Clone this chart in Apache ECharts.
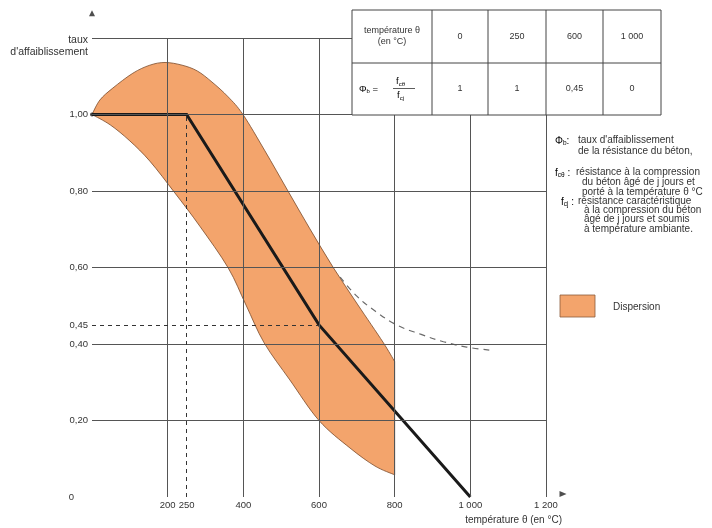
<!DOCTYPE html>
<html><head><meta charset="utf-8">
<script src="https://cdn.jsdelivr.net/npm/echarts@6/dist/echarts.min.js"></script>
<style>html,body{margin:0;padding:0;background:#fff}#c{width:712px;height:528px}</style>
</head><body><div id="c"></div>
<script>
// ---- data ----
const xTicks = [200, 250, 400, 600, 800, 1000, 1200];
const yTicks = [0, 0.2, 0.4, 0.45, 0.6, 0.8, 1.0];
const gridX = [200, 400, 600, 800, 1000, 1200];
const gridY = [0.2, 0.4, 0.6, 0.8, 1.0, 1.2];
const lineTemps = [0, 250, 600, 1000];
const linePhi = [1, 1, 0.45, 0];
const upperT = [0, 21, 55, 108, 153, 193, 238, 278, 317, 360, 399, 457, 518, 576, 637, 703, 769, 800];
const upperV = [1.0, 1.038, 1.069, 1.108, 1.129, 1.136, 1.129, 1.114, 1.085, 1.046, 1.0, 0.905, 0.8, 0.701, 0.601, 0.502, 0.405, 0.354];
const lowerT = [0, 48, 100, 153, 219, 285, 360, 407, 455, 523, 600, 682, 748, 800];
const lowerV = [1.0, 0.973, 0.931, 0.878, 0.795, 0.708, 0.599, 0.502, 0.403, 0.306, 0.2, 0.128, 0.081, 0.058];
const dashT = [656, 700, 750, 805, 870, 929, 990, 1052];
const dashV = [0.575, 0.525, 0.485, 0.45, 0.425, 0.406, 0.392, 0.384];
const tableTemps = ['0', '250', '600', '1 000'];
const tablePhi = ['1', '1', '0,45', '0'];

// ---- chart ----
const FONT = 'Liberation Sans';
const TXT = '#333';
const chart = echarts.init(document.getElementById('c'), null, {renderer: 'canvas'});

const fmtNum = v => v >= 1000 ? String(v).replace(/(\d)(\d{3})$/, '$1 $2') : String(v);
const hLines = gridY.map(v => [{coord: [0, v]}, {coord: [1200, v]}]);
const vLines = gridX.map(t => [{coord: [t, 0]}, {coord: [t, 1.2]}]);

function crSegs(pts) {
  let d = '';
  for (let i = 0; i < pts.length - 1; i++) {
    const p0 = pts[i - 1] || pts[i], p1 = pts[i], p2 = pts[i + 1], p3 = pts[i + 2] || pts[i + 1];
    const c1 = [p1[0] + (p2[0] - p0[0]) / 6, p1[1] + (p2[1] - p0[1]) / 6];
    const c2 = [p2[0] - (p3[0] - p1[0]) / 6, p2[1] - (p3[1] - p1[1]) / 6];
    d += ` C${c1[0]},${c1[1]} ${c2[0]},${c2[1]} ${p2[0]},${p2[1]}`;
  }
  return d;
}

// table geometry (layout only)
const Z = 100;
const tx = [352, 432, 488, 546, 603, 661], ty = [10, 63, 115];
const tableChildren = [
  {type: 'rect', z: Z, shape: {x: tx[0], y: ty[0], width: tx[5] - tx[0], height: ty[2] - ty[0]},
   style: {fill: '#fff', stroke: '#444', lineWidth: 1}},
  {type: 'line', z: Z + 1, shape: {x1: tx[0], y1: ty[1], x2: tx[5], y2: ty[1]}, style: {stroke: '#444', lineWidth: 1}}
];
for (let i = 1; i < 5; i++) tableChildren.push({type: 'line', z: Z + 1, shape: {x1: tx[i], y1: ty[0], x2: tx[i], y2: ty[2]}, style: {stroke: '#444', lineWidth: 1}});
tableTemps.forEach((s, i) => tableChildren.push({type: 'text', z: Z + 1, style: {text: s, x: (tx[i + 1] + tx[i + 2]) / 2, y: (ty[0] + ty[1]) / 2, align: 'center', verticalAlign: 'middle', font: `9px "${FONT}"`, fill: TXT}}));
tablePhi.forEach((s, i) => tableChildren.push({type: 'text', z: Z + 1, style: {text: s, x: (tx[i + 1] + tx[i + 2]) / 2, y: (ty[1] + ty[2]) / 2, align: 'center', verticalAlign: 'middle', font: `9px "${FONT}"`, fill: TXT}}));
tableChildren.push({type: 'text', z: Z + 1, style: {text: 'température θ\n(en °C)', x: (tx[0] + tx[1]) / 2, y: (ty[0] + ty[1]) / 2, align: 'center', verticalAlign: 'middle', font: `9px "${FONT}"`, lineHeight: 11, fill: TXT}});
const subRich = {a: {fontSize: 9.5, fontFamily: FONT, color: TXT}, s: {fontSize: 6, fontFamily: FONT, color: TXT, padding: [5, 0, 0, 0]}};
tableChildren.push({type: 'text', z: Z + 1, style: {text: '{a|Φ}{s|b}{a| =}', rich: subRich, x: 359, y: 89, verticalAlign: 'middle'}});
tableChildren.push({type: 'text', z: Z + 1, style: {text: '{a|f}{s|cθ}', rich: subRich, x: 396, y: 87, verticalAlign: 'bottom'}});
tableChildren.push({type: 'line', z: Z + 1, shape: {x1: 393, y1: 88.5, x2: 415, y2: 88.5}, style: {stroke: '#333', lineWidth: 0.8}});
tableChildren.push({type: 'text', z: Z + 1, style: {text: '{a|f}{s|cj}', rich: subRich, x: 397, y: 90, verticalAlign: 'top'}});

const legRich = {a: {fontSize: 10, fontFamily: FONT, color: TXT}, s: {fontSize: 6.5, fontFamily: FONT, color: TXT, padding: [5, 0, 0, 0]}};
const lf = `10px "${FONT}"`;
const legendChildren = [
  {type: 'text', z: Z, style: {text: '{a|Φ}{s|b}{a|:}', rich: legRich, x: 555, y: 141, verticalAlign: 'middle'}},
  {type: 'text', z: Z, style: {text: 'taux d\'affaiblissement\nde la résistance du béton,', x: 578, y: 135, font: lf, lineHeight: 10.5, fill: TXT}},
  {type: 'text', z: Z, style: {text: '{a|f}{s|cθ}{a| :}', rich: legRich, x: 555, y: 173, verticalAlign: 'middle'}},
  {type: 'text', z: Z, style: {text: 'résistance à la compression', x: 576, y: 167, font: lf, fill: TXT}},
  {type: 'text', z: Z, style: {text: 'du béton âgé de j jours et\nporté à la température θ °C', x: 582, y: 177, font: lf, lineHeight: 10, fill: TXT}},
  {type: 'text', z: Z, style: {text: '{a|f}{s|cj}{a| :}', rich: legRich, x: 561, y: 202, verticalAlign: 'middle'}},
  {type: 'text', z: Z, style: {text: 'résistance caractéristique', x: 578, y: 196, font: lf, fill: TXT}},
  {type: 'text', z: Z, style: {text: 'à la compression du béton\nâgé de j jours et soumis\nà température ambiante.', x: 584, y: 205, font: lf, lineHeight: 9.5, fill: TXT}},
  {type: 'rect', z: Z, shape: {x: 560, y: 295, width: 35, height: 22}, style: {fill: '#F3A46C', stroke: '#8a5a3a', lineWidth: 0.8}},
  {type: 'text', z: Z, style: {text: 'Dispersion', x: 613, y: 307, verticalAlign: 'middle', font: lf, fill: TXT}}
];

const option = {
  animation: false,
  backgroundColor: '#fff',
  grid: {left: 92, top: 38, width: 454, height: 459, outerBoundsMode: 'none', containLabel: false},
  xAxis: {
    type: 'value', min: 0, max: 1200,
    axisLine: {show: false}, axisTick: {show: false}, splitLine: {show: false},
    axisLabel: {customValues: xTicks, formatter: v => fmtNum(v), fontFamily: FONT, fontSize: 9.5, color: TXT, margin: 3, hideOverlap: false}
  },
  yAxis: {
    type: 'value', min: 0, max: 1.2,
    axisLine: {show: false}, axisTick: {show: false}, splitLine: {show: false},
    axisLabel: {customValues: yTicks, formatter: v => v === 0 ? '{z|0}' : v.toFixed(2).replace('.', ','),
      fontFamily: FONT, fontSize: 9.5, color: TXT, margin: 4,
      rich: {z: {fontFamily: FONT, fontSize: 9.5, color: TXT, padding: [0, 14, 0, 0]}}}
  },
  series: [
    {type: 'custom', z: 1, silent: true, clip: false, data: [[0, 0]],
     renderItem: (params, api) => {
       const up = upperT.map((t, i) => api.coord([t, upperV[i]]));
       const lo = lowerT.map((t, i) => api.coord([t, lowerV[i]])).reverse();
       const d = `M${up[0][0]},${up[0][1]}` + crSegs(up) + ` L${lo[0][0]},${lo[0][1]}` + crSegs(lo) + ' Z';
       return {type: 'path', shape: {pathData: d}, style: {fill: '#F3A46C', stroke: '#7a4a2a', lineWidth: 0.8}};
     }},
    {type: 'line', z: 2, data: [], silent: true,
     markLine: {silent: true, symbol: 'none', label: {show: false}, animation: false,
       lineStyle: {color: '#555', width: 1, type: 'solid'}, data: hLines.concat(vLines)}},
    {type: 'line', z: 3, data: [], silent: true,
     markLine: {silent: true, symbol: 'none', label: {show: false}, animation: false,
       lineStyle: {color: '#333', width: 1, type: [4, 4]},
       data: [[{coord: [lineTemps[1], 0]}, {coord: [lineTemps[1], linePhi[1]]}],
              [{coord: [0, linePhi[2]]}, {coord: [lineTemps[2], linePhi[2]]}]]}},
    {type: 'line', z: 3, smooth: 0.4, symbol: 'none', silent: true,
     data: dashT.map((t, i) => [t, dashV[i]]),
     lineStyle: {color: '#6a6a6a', width: 1.2, type: [6, 5]}},
    {type: 'line', z: 4, symbol: 'none', silent: true,
     data: lineTemps.map((t, i) => [t, linePhi[i]]),
     lineStyle: {color: '#1a1a1a', width: 3, join: 'miter'}},
    {type: 'scatter', z: 4, clip: false, silent: true, symbol: 'circle', symbolSize: 4,
     itemStyle: {color: '#1a1a1a'}, data: [[lineTemps[0], linePhi[0]]]},
    {type: 'scatter', z: 4, clip: false, silent: true, symbol: 'triangle', symbolSize: [6, 6],
     itemStyle: {color: '#222'}, data: [[0, 1.265]]},
    {type: 'scatter', z: 4, clip: false, silent: true, symbol: 'triangle', symbolSize: [6, 7], symbolRotate: -90,
     itemStyle: {color: '#222'}, data: [[1245, 0.008]]}
  ],
  graphic: [
    {type: 'group', children: tableChildren},
    {type: 'group', children: legendChildren},
    {type: 'text', z: Z, style: {text: 'taux\nd\'affaiblissement', x: 88, y: 34, align: 'right', verticalAlign: 'top', font: `10.5px "${FONT}"`, lineHeight: 12, fill: TXT}},
    {type: 'text', z: Z, style: {text: 'température θ (en °C)', x: 562, y: 520, align: 'right', verticalAlign: 'middle', font: `10px "${FONT}"`, fill: TXT}}
  ]
};
chart.setOption(option);
</script>
</body></html>
